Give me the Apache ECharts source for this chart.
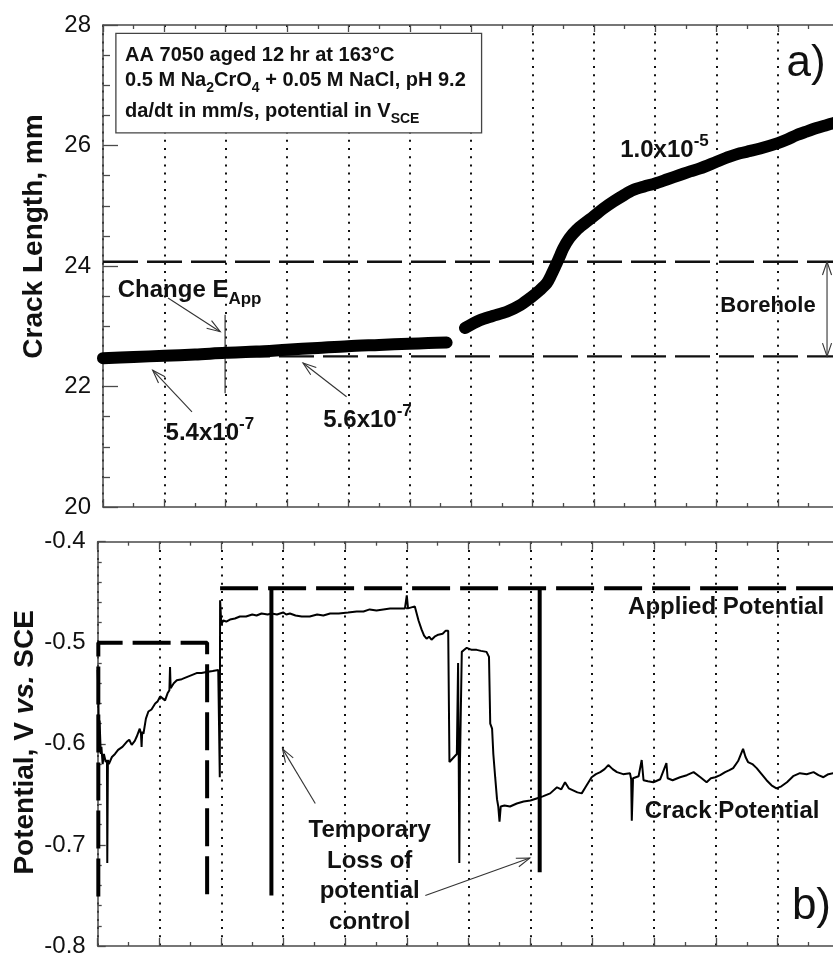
<!DOCTYPE html>
<html><head><meta charset="utf-8">
<script src="https://cdn.jsdelivr.net/npm/echarts@6/dist/echarts.min.js"></script>
<style>html,body{margin:0;padding:0;background:#fff}#c{width:833px;height:954px}</style>
</head><body><div id="c"></div>
<script>
// ---------------- data ----------------
const timeTicks = [0, 1, 2, 3, 4, 5, 6, 7, 8, 9, 10, 11, 12];          // major x divisions (unlabelled)
const crackLengthTicks = [20, 22, 24, 26, 28];                         // mm
const potentialTicks = [-0.8, -0.7, -0.6, -0.5, -0.4];                 // V vs SCE

// crack length, mm  (before / after the gap)
const crackLengthEarly = [[0,22.47],[0.5,22.49],[1.0,22.51],[1.5,22.53],[1.99,22.56],[2.5,22.58],[2.99,22.61],[3.5,22.64],[3.99,22.67],[4.5,22.69],[4.99,22.71],[5.3,22.72],[5.6,22.73]];
const crackLengthLate = [[5.9,22.97],[6.14,23.10],[6.35,23.17],[6.58,23.24],[6.8,23.35],[6.99,23.49],[7.12,23.60],[7.23,23.71],[7.30,23.84],[7.37,23.99],[7.44,24.15],[7.50,24.29],[7.60,24.46],[7.72,24.60],[7.85,24.71],[7.99,24.82],[8.15,24.95],[8.32,25.07],[8.48,25.17],[8.64,25.26],[8.82,25.32],[9.0,25.37],[9.2,25.44],[9.40,25.51],[9.57,25.57],[9.73,25.62],[10.0,25.73],[10.2,25.81],[10.38,25.87],[10.55,25.91],[10.71,25.95],[11.0,26.04],[11.15,26.10],[11.3,26.17],[11.46,26.23],[11.63,26.29],[11.8,26.34],[11.9,26.37],[12.0,26.40]];
const boreholeTop = 24.07;
const boreholeBottom = 22.5;
const changeEAppMarker = [[1.99,23.19],[1.99,21.89]];

// applied potential (dashed) and its brief losses of control
const appliedEarly = [[0.01,-0.751],[0.01,-0.5],[1.77,-0.5],[1.77,-0.751]];
const appliedLate = [[1.98,-0.446],[12,-0.446]];
const appliedLossA = [[2.81,-0.446],[2.81,-0.75]];
const appliedLossB = [[7.15,-0.446],[7.15,-0.727]];

// crack potential
const crackPotential = [[0.00,-0.527],[0.01,-0.55],[0.02,-0.60],[0.03,-0.577],[0.05,-0.61],[0.06,-0.603],[0.08,-0.62],[0.10,-0.610],[0.13,-0.618],[0.15,-0.616],[0.155,-0.718],[0.165,-0.616],[0.18,-0.620],[0.23,-0.613],[0.28,-0.610],[0.33,-0.606],[0.40,-0.603],[0.47,-0.598],[0.51,-0.596],[0.55,-0.601],[0.60,-0.597],[0.63,-0.593],[0.68,-0.585],[0.70,-0.590],[0.71,-0.603],[0.72,-0.588],[0.74,-0.590],[0.78,-0.575],[0.82,-0.568],[0.87,-0.566],[0.93,-0.560],[0.97,-0.558],[1.01,-0.553],[1.05,-0.555],[1.09,-0.557],[1.13,-0.550],[1.16,-0.547],[1.17,-0.524],[1.18,-0.545],[1.23,-0.540],[1.28,-0.537],[1.36,-0.536],[1.44,-0.534],[1.52,-0.532],[1.60,-0.530],[1.68,-0.530],[1.76,-0.529],[1.86,-0.528],[1.95,-0.527],[1.97,-0.527],[1.975,-0.633],[1.98,-0.458],[2.00,-0.482],[2.03,-0.478],[2.08,-0.479],[2.14,-0.477],[2.22,-0.476],[2.30,-0.474],[2.40,-0.474],[2.50,-0.472],[2.57,-0.473],[2.65,-0.471],[2.75,-0.472],[2.81,-0.471],[2.90,-0.472],[3.00,-0.470],[3.05,-0.472],[3.11,-0.471],[3.20,-0.473],[3.30,-0.474],[3.43,-0.474],[3.55,-0.472],[3.65,-0.473],[3.76,-0.471],[3.90,-0.471],[4.05,-0.470],[4.19,-0.469],[4.30,-0.469],[4.40,-0.467],[4.51,-0.468],[4.62,-0.467],[4.73,-0.466],[4.85,-0.466],[4.97,-0.466],[5.00,-0.453],[5.02,-0.466],[5.13,-0.464],[5.19,-0.478],[5.24,-0.487],[5.28,-0.493],[5.32,-0.496],[5.36,-0.494],[5.40,-0.497],[5.45,-0.494],[5.51,-0.492],[5.58,-0.491],[5.63,-0.488],[5.67,-0.488],[5.69,-0.618],[5.72,-0.616],[5.75,-0.614],[5.81,-0.610],[5.83,-0.520],[5.84,-0.612],[5.85,-0.718],[5.86,-0.620],[5.89,-0.509],[5.93,-0.507],[5.97,-0.505],[6.05,-0.507],[6.13,-0.507],[6.20,-0.508],[6.29,-0.509],[6.33,-0.514],[6.35,-0.580],[6.38,-0.585],[6.40,-0.610],[6.43,-0.633],[6.46,-0.655],[6.48,-0.662],[6.50,-0.677],[6.52,-0.662],[6.58,-0.661],[6.67,-0.662],[6.78,-0.659],[6.89,-0.657],[7.00,-0.656],[7.10,-0.654],[7.20,-0.652],[7.32,-0.649],[7.43,-0.643],[7.50,-0.645],[7.56,-0.638],[7.62,-0.644],[7.69,-0.646],[7.76,-0.648],[7.83,-0.649],[7.90,-0.642],[7.99,-0.633],[8.06,-0.630],[8.13,-0.628],[8.20,-0.625],[8.26,-0.621],[8.33,-0.625],[8.40,-0.628],[8.50,-0.630],[8.61,-0.629],[8.63,-0.635],[8.64,-0.676],[8.66,-0.634],[8.75,-0.632],[8.80,-0.616],[8.83,-0.636],[8.90,-0.637],[8.99,-0.638],[9.10,-0.635],[9.20,-0.619],[9.22,-0.634],[9.30,-0.636],[9.42,-0.633],[9.53,-0.631],[9.64,-0.628],[9.75,-0.633],[9.85,-0.638],[9.92,-0.634],[9.99,-0.633],[10.07,-0.631],[10.15,-0.628],[10.22,-0.626],[10.28,-0.624],[10.36,-0.617],[10.44,-0.605],[10.48,-0.613],[10.52,-0.618],[10.59,-0.620],[10.66,-0.624],[10.74,-0.630],[10.82,-0.636],[10.90,-0.641],[10.98,-0.644],[11.06,-0.642],[11.15,-0.638],[11.25,-0.632],[11.36,-0.629],[11.47,-0.630],[11.58,-0.628],[11.66,-0.631],[11.74,-0.633],[11.82,-0.630],[11.90,-0.629],[12.0,-0.630]];

// ---------------- chart ----------------
const FONT = 'Liberation Sans, Arial, Helvetica, sans-serif';
const INK = '#111';
const AXIS = '#4a4a4a';
const chart = echarts.init(document.getElementById('c'));

function xAxisCfg(gridIndex, position, majorLen, minorLen) {
  return {
    type: 'value', gridIndex, position,
    min: timeTicks[0], max: timeTicks[timeTicks.length - 1], interval: timeTicks[1] - timeTicks[0],
    axisLine: {show: true, onZero: false, lineStyle: {color: AXIS, width: 1.5}},
    axisTick: {show: true, inside: true, length: majorLen, lineStyle: {color: AXIS, width: 1.3}},
    minorTick: {show: true, splitNumber: 2, length: minorLen, lineStyle: {color: AXIS, width: 1.3}},
    axisLabel: {show: false},
    splitLine: {show: position === 'bottom', lineStyle: {color: '#111', width: 2, type: [2, 6.2]}},
    minorSplitLine: {show: false}
  };
}
function yAxisCfg(gridIndex, ticks, majorLen, minorLen, minorSplit, fmt, name, nameStyle, nameGap) {
  return {
    type: 'value', gridIndex, position: 'left',
    min: ticks[0], max: ticks[ticks.length - 1], interval: +(ticks[1] - ticks[0]).toFixed(6),
    axisLine: {show: true, onZero: false, lineStyle: {color: AXIS, width: 1.5}},
    axisTick: {show: true, inside: true, length: majorLen, lineStyle: {color: AXIS, width: 1.3}},
    minorTick: {show: true, splitNumber: minorSplit, length: minorLen, lineStyle: {color: AXIS, width: 1.3}},
    axisLabel: {show: true, margin: 12, fontSize: 24, fontFamily: FONT, color: INK, formatter: fmt},
    splitLine: {show: false},
    name, nameLocation: 'middle', nameRotate: 90, nameGap, nameMoveOverlap: false,
    nameTextStyle: nameStyle
  };
}

const option = {
  backgroundColor: '#fff',
  animation: false,
  grid: [
    {left: 103, top: 25, width: 736.3, height: 482, containLabel: false, outerBoundsMode: 'none'},
    {left: 97.7, top: 541.7, width: 741.8, height: 404.3, containLabel: false, outerBoundsMode: 'none'}
  ],
  xAxis: [
    xAxisCfg(0, 'bottom', 8, 4),
    xAxisCfg(0, 'top', 7, 4),
    xAxisCfg(1, 'bottom', 8, 4),
    xAxisCfg(1, 'top', 8, 4)
  ],
  yAxis: [
    yAxisCfg(0, crackLengthTicks, 15, 7, 4, v => String(v), 'Crack Length, mm',
      {fontSize: 28, fontWeight: 'bold', fontFamily: FONT, color: INK, padding: [0, 0, 0, 59]}, 55),
    yAxisCfg(1, potentialTicks, 8, 4, 5, v => v.toFixed(1), '{a|Potential, V }{i|vs.}{a| SCE}',
      {fontSize: 28, fontWeight: 'bold', fontFamily: FONT, color: INK, padding: [0, 0, 0, 3],
       rich: {a: {fontSize: 28, fontWeight: 'bold', fontFamily: FONT, color: INK},
              i: {fontSize: 28, fontWeight: 'bold', fontStyle: 'italic', fontFamily: FONT, color: INK}}}, 58)
  ],
  series: [
    {type: 'line', xAxisIndex: 0, yAxisIndex: 0, data: [[timeTicks[0], boreholeTop], [timeTicks[12], boreholeTop]], symbol: 'none',
     lineStyle: {color: INK, width: 2.4, type: [35, 9]}, silent: true, z: 2},
    {type: 'line', xAxisIndex: 0, yAxisIndex: 0, data: [[timeTicks[0], boreholeBottom], [timeTicks[12], boreholeBottom]], symbol: 'none',
     lineStyle: {color: INK, width: 2.4, type: [35, 9]}, silent: true, z: 2},
    {type: 'line', xAxisIndex: 0, yAxisIndex: 0, data: changeEAppMarker, symbol: 'none',
     lineStyle: {color: '#333', width: 1.2}, z: 3},
    {type: 'line', xAxisIndex: 0, yAxisIndex: 0, data: crackLengthEarly, symbol: 'none', smooth: 0.3,
     lineStyle: {color: '#000', width: 12, cap: 'round', join: 'round'}, z: 4},
    {type: 'line', xAxisIndex: 0, yAxisIndex: 0, data: crackLengthLate, symbol: 'none', smooth: 0.3,
     lineStyle: {color: '#000', width: 12, cap: 'round', join: 'round'}, z: 4},
    {type: 'line', xAxisIndex: 2, yAxisIndex: 1, data: appliedEarly, symbol: 'none',
     lineStyle: {color: '#000', width: 4, type: [38, 10]}, z: 4},
    {type: 'line', xAxisIndex: 2, yAxisIndex: 1, data: appliedLate, symbol: 'none',
     lineStyle: {color: '#000', width: 4, type: [38, 10]}, z: 4},
    {type: 'line', xAxisIndex: 2, yAxisIndex: 1, data: appliedLossA, symbol: 'none',
     lineStyle: {color: '#000', width: 4}, z: 4},
    {type: 'line', xAxisIndex: 2, yAxisIndex: 1, data: appliedLossB, symbol: 'none',
     lineStyle: {color: '#000', width: 4}, z: 4},
    {type: 'line', xAxisIndex: 2, yAxisIndex: 1, data: crackPotential, symbol: 'none',
     lineStyle: {color: '#000', width: 2}, z: 3}
  ]
};
chart.setOption(option);

// ---------------- annotations (positions in data units) ----------------
function P(panel, x, y) {
  return chart.convertToPixel(panel === 0 ? {xAxisIndex: 0, yAxisIndex: 0} : {xAxisIndex: 2, yAxisIndex: 1}, [x, y]);
}
const G = [];
function arrowTo(panel, from, to, both) {
  const a = P(panel, from[0], from[1]), b = P(panel, to[0], to[1]);
  const st = {stroke: '#333', lineWidth: 1.1, fill: null};
  G.push({type: 'line', z: 100, shape: {x1: a[0], y1: a[1], x2: b[0], y2: b[1]}, style: st});
  const heads = both ? [[b, a], [a, b]] : [[a, b]];
  heads.forEach(([s, e]) => {
    const ang = Math.atan2(e[1] - s[1], e[0] - s[0]);
    const L = 14, w = 0.33;
    const p1 = [e[0] - L * Math.cos(ang - w), e[1] - L * Math.sin(ang - w)];
    const p2 = [e[0] - L * Math.cos(ang + w), e[1] - L * Math.sin(ang + w)];
    G.push({type: 'polyline', z: 100, shape: {points: [p1, e, p2]}, style: st});
  });
}
function label(panel, x, y, text, rich, extra) {
  const p = P(panel, x, y);
  G.push({type: 'text', z: 101, x: p[0], y: p[1],
    style: Object.assign({text, rich, fill: INK, font: 'bold 24px ' + FONT, align: 'left', verticalAlign: 'middle'}, extra || {})});
}
const big = {fontSize: 24, fontWeight: 'bold', fontFamily: FONT, lineHeight: 36, fill: INK};
const sup = {fontSize: 17, fontWeight: 'bold', fontFamily: FONT, lineHeight: 17, verticalAlign: 'top', fill: INK};
const sub17 = {fontSize: 17, fontWeight: 'bold', fontFamily: FONT, lineHeight: 17, verticalAlign: 'bottom', fill: INK};

// info box
(function () {
  const a = P(0, 0.21, 27.86), b = P(0, 6.17, 26.21);
  G.push({type: 'rect', z: 99, shape: {x: a[0], y: a[1], width: b[0] - a[0], height: b[1] - a[1]},
          style: {fill: '#fff', stroke: '#444', lineWidth: 1.3}});
  const m = {fontSize: 20, fontWeight: 'bold', fontFamily: FONT, lineHeight: 30, fill: INK};
  const s = {fontSize: 14, fontWeight: 'bold', fontFamily: FONT, lineHeight: 14, verticalAlign: 'bottom', fill: INK};
  label(0, 0.36, 27.50, '{m|AA 7050 aged 12 hr at 163°C}', {m});
  label(0, 0.36, 27.08, '{m|0.5 M Na}{s|2}{m|CrO}{s|4}{m| + 0.05 M NaCl, pH 9.2}', {m, s});
  label(0, 0.36, 26.57, '{m|da/dt in mm/s, potential in V}{s|SCE}', {m, s});
})();

label(0, 0.24, 23.60, '{m|Change E}{s|App}', {m: big, s: sub17});
arrowTo(0, [1.06, 23.47], [1.91, 22.91]);
label(0, 1.02, 21.22, '{m|5.4x10}{s|-7}', {m: big, s: sup});
arrowTo(0, [1.45, 21.58], [0.81, 22.27]);
label(0, 3.59, 21.43, '{m|5.6x10}{s|-7}', {m: big, s: sup});
arrowTo(0, [3.97, 21.83], [3.26, 22.39]);
label(0, 8.43, 25.92, '{m|1.0x10}{s|-5}', {m: big, s: sup});
label(0, 10.06, 23.34, 'Borehole', null, {font: 'bold 22px ' + FONT});
arrowTo(0, [11.80, boreholeBottom], [11.80, boreholeTop], true);
label(0, 11.14, 27.36, 'a)', null, {font: '44px ' + FONT});

label(1, 8.58, -0.465, 'Applied Potential');
label(1, 8.85, -0.667, 'Crack Potential');
label(1, 4.40, -0.731, 'Temporary\nLoss of\npotential\ncontrol', null, {align: 'center', lineHeight: 30.5});
arrowTo(1, [3.52, -0.659], [2.99, -0.605]);
arrowTo(1, [5.30, -0.750], [6.99, -0.713]);
label(1, 11.23, -0.761, 'b)', null, {font: '44px ' + FONT});

chart.setOption({graphic: {elements: G}});
</script>
</body></html>
